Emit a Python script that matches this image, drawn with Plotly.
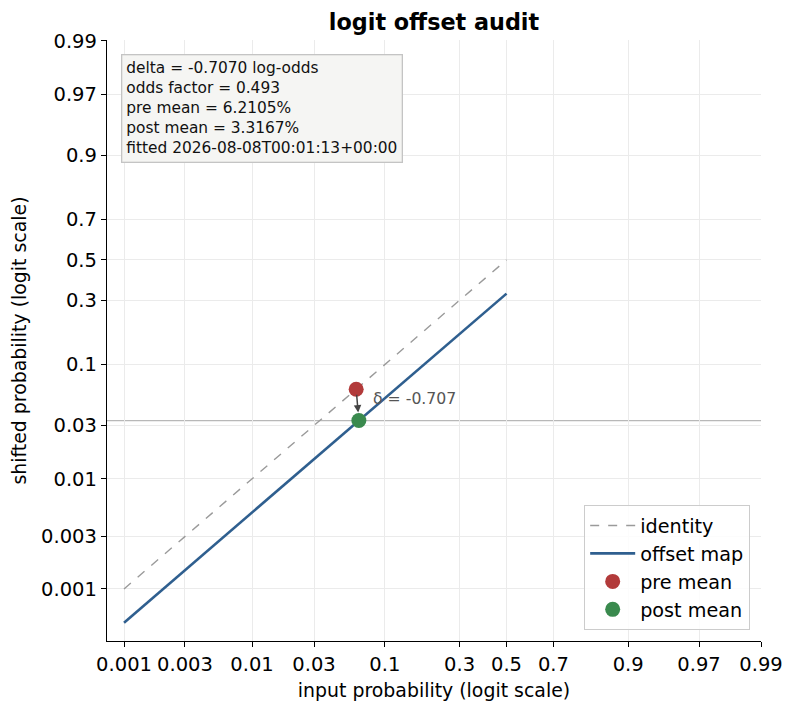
import numpy as np
import plotly.graph_objects as go

# tick positions (probabilities) shared by both logit axes
tick_probs = [0.001, 0.003, 0.01, 0.03, 0.1, 0.3, 0.5, 0.7, 0.9, 0.97, 0.99]
tick_labels = ["0.001", "0.003", "0.01", "0.03", "0.1", "0.3", "0.5", "0.7", "0.9", "0.97", "0.99"]

# identity and offset map, sampled on the input grid
input_p = [0.001, 0.003, 0.01, 0.03, 0.1, 0.3, 0.5]
identity_p = [0.001, 0.003, 0.01, 0.03, 0.1, 0.3, 0.5]
offset_p = [0.000493, 0.00148, 0.00495, 0.0150, 0.0519, 0.174, 0.330]

delta = -0.707
pre_mean_x = [0.062105]
pre_mean_y = [0.062105]
post_mean_x = [0.0650]
post_mean_y = [0.033167]

box_lines = [
    "delta = -0.7070 log-odds",
    "odds factor = 0.493",
    "pre mean = 6.2105%",
    "post mean = 3.3167%",
    "fitted 2026-08-08T00:01:13+00:00",
]


def logit(p):
    p = np.asarray(p, dtype=float)
    return np.log(p / (1 - p))


FONT = "DejaVu Sans"
BLUE = "#2f5f8f"
RED = "#b23a3a"
GREEN = "#3a8a4e"

fig = go.Figure()

fig.add_trace(go.Scatter(x=logit(input_p), y=logit(identity_p), mode="lines",
                         name="identity",
                         line=dict(color="#9a9a9a", width=1.4, dash="dash")))
fig.add_trace(go.Scatter(x=logit(input_p), y=logit(offset_p), mode="lines",
                         name="offset map",
                         line=dict(color=BLUE, width=2.6)))
fig.add_trace(go.Scatter(x=logit(pre_mean_x), y=logit(pre_mean_y), mode="markers",
                         name="pre mean",
                         marker=dict(color=RED, size=15)))
fig.add_trace(go.Scatter(x=logit(post_mean_x), y=logit(post_mean_y), mode="markers",
                         name="post mean",
                         marker=dict(color=GREEN, size=15)))

# horizontal reference at the post mean
fig.add_hline(y=float(logit(post_mean_y)[0]), line=dict(color="#b8b8b8", width=1.3),
              layer="below")

# arrow from pre mean to post mean
fig.add_annotation(x=float(logit(post_mean_x)[0]), y=float(logit(post_mean_y)[0]),
                   ax=float(logit(pre_mean_x)[0]), ay=float(logit(pre_mean_y)[0]),
                   xref="x", yref="y", axref="x", ayref="y",
                   showarrow=True, arrowhead=2, arrowsize=1, arrowwidth=1.5,
                   arrowcolor="#444444", standoff=8, startstandoff=4, text="")
mid_y = float((logit(pre_mean_y)[0] + logit(post_mean_y)[0]) / 2)
fig.add_annotation(x=float(logit(pre_mean_x)[0]), y=mid_y, xref="x", yref="y",
                   text=f"δ = {delta:.3f}", showarrow=False,
                   xanchor="left", yanchor="middle", xshift=15, yshift=6,
                   font=dict(family=FONT, size=15.7, color="#555555"))

# summary box
fig.add_annotation(x=0.0214, y=0.977, xref="paper", yref="paper",
                   xanchor="left", yanchor="top", align="left",
                   text="<br>".join(box_lines), showarrow=False,
                   font=dict(family=FONT, size=15.4, color="#111111"),
                   bgcolor="#f5f5f3", bordercolor="#c4c4c4", borderwidth=1.3,
                   borderpad=4)

axis_common = dict(
    tickmode="array",
    tickvals=logit(tick_probs),
    ticktext=tick_labels,
    showgrid=True, gridcolor="#ebebeb", gridwidth=1,
    zeroline=False,
    showline=True, linecolor="black", linewidth=1.3,
    ticks="outside", ticklen=5, tickwidth=1.2, tickcolor="black",
    tickfont=dict(family=FONT, size=19.5, color="black"),
    mirror=False,
    automargin=False,
)

# page body adds an 8px offset, so margins are trimmed on the left/top
fig.update_layout(
    width=794, height=712,
    margin=dict(l=99, r=41, t=32, b=79),
    paper_bgcolor="white", plot_bgcolor="white",
    font=dict(family=FONT, color="black"),
    title=dict(text="<b>logit offset audit</b>", x=0.5, xref="paper",
               y=0.980, yref="container", yanchor="middle",
               font=dict(family=FONT, size=22.3, color="black")),
    xaxis=dict(axis_common, range=[-7.214, 4.595],
               title=dict(text="input probability (logit scale)", standoff=9,
                          font=dict(family=FONT, size=18.9))),
    yaxis=dict(axis_common, range=[-8.0, 4.616],
               title=dict(text="shifted probability (logit scale)", standoff=13,
                          font=dict(family=FONT, size=18.9))),
    legend=dict(x=0.983, y=0.018, xanchor="right", yanchor="bottom",
                bgcolor="rgba(255,255,255,0.85)", bordercolor="#cccccc",
                borderwidth=1.3, font=dict(family=FONT, size=19.2),
                itemwidth=45, tracegroupgap=0),
    showlegend=True,
)

fig.write_html("out.html")
